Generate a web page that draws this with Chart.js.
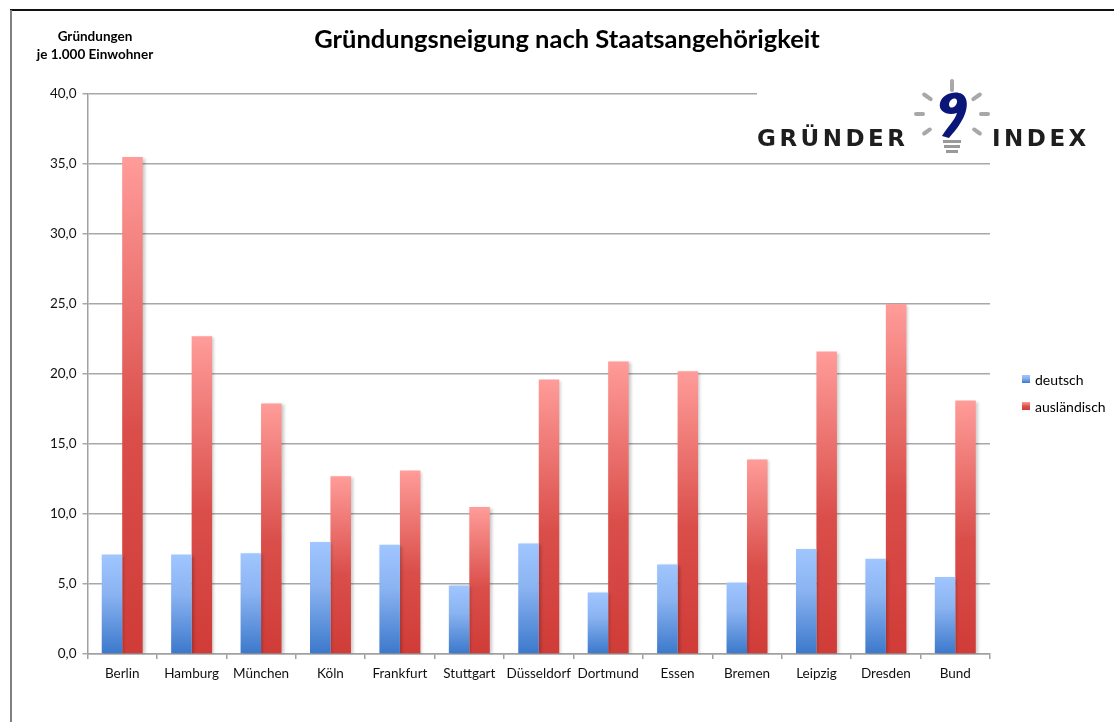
<!DOCTYPE html>
<html>
	<head>
		<title>Gründungsneigung</title>
		<meta charset="UTF-8">
		<script src="https://cdn.jsdelivr.net/npm/chart.js@4/dist/chart.umd.min.js"></script>
		<style>
			body { margin: 0; background: #fff; }
			#wrap { width: 1114px; height: 722px; position: relative; }
		</style>
	</head>
	<body>
		<div id="wrap"><canvas id="chart"></canvas></div>

		<script>
			const cities = ["Berlin", "Hamburg", "München", "Köln", "Frankfurt", "Stuttgart", "Düsseldorf", "Dortmund", "Essen", "Bremen", "Leipzig", "Dresden", "Bund"]
			const deutsch = [7.1, 7.1, 7.2, 8.0, 7.8, 4.9, 7.9, 4.4, 6.4, 5.1, 7.5, 6.8, 5.5]
			const auslaendisch = [35.5, 22.7, 17.9, 12.7, 13.1, 10.5, 19.6, 20.9, 20.2, 13.9, 21.6, 25.0, 18.1]
			const seriesNames = ["deutsch", "ausländisch"]
			const yTicks = [0, 5, 10, 15, 20, 25, 30, 35, 40]

			const FONT = "Lato, 'Open Sans', sans-serif"
			const blueStops = [[0, "#a0c6ff"], [0.4, "#8ab3f1"], [1, "#3b78cb"]]
			const redStops = [[0, "#ff9c99"], [0.55, "#da4e4a"], [1, "#d03c38"]]

			function barGradient(stops){
				return function(c){
					let chart = c.chart
					if(!chart.chartArea || c.raw === undefined) return stops[0][1]
					let y = chart.scales.y
					let top = y.getPixelForValue(c.raw)
					let bottom = y.getPixelForValue(0)
					let g = chart.ctx.createLinearGradient(0, top, 0, bottom)
					stops.forEach(s => g.addColorStop(s[0], s[1]))
					return g
				}
			}

			// frame, titles, legend and logo
			const decor = {
				id: "decor",
				beforeDraw(chart){
					let ctx = chart.ctx
					ctx.save()
					ctx.fillStyle = "#fff"
					ctx.fillRect(0, 0, chart.width, chart.height)
					ctx.fillStyle = "#111"
					ctx.fillRect(10, 9, chart.width - 10, 2)
					ctx.fillStyle = "#808080"
					ctx.fillRect(10, 10, 2, chart.height - 10)
					ctx.restore()
				},
				beforeDatasetsDraw(chart){
					let ctx = chart.ctx
					ctx.save()
					ctx.shadowColor = "rgba(0,0,0,0.22)"
					ctx.shadowOffsetX = 2
					ctx.shadowOffsetY = 1
					ctx.shadowBlur = 3
				},
				afterDatasetsDraw(chart){
					chart.ctx.restore()
				},
				afterDraw(chart){
					let ctx = chart.ctx
					let area = chart.chartArea
					ctx.save()
					ctx.fillStyle = "#000"
					ctx.textAlign = "center"
					ctx.textBaseline = "middle"
					ctx.font = "bold 25.5px " + FONT
					ctx.fillText("Gründungsneigung nach Staatsangehörigkeit", 567, 40)
					ctx.font = "bold 13.5px " + FONT
					ctx.fillText("Gründungen", 95, 37)
					ctx.fillText("je 1.000 Einwohner", 95, 55)

					// legend
					ctx.textAlign = "left"
					ctx.font = "14px " + FONT
					let stopsList = [blueStops, redStops]
					seriesNames.forEach((name, i) => {
						let y = 379 + i * 27
						let g = ctx.createLinearGradient(0, y - 4, 0, y + 4)
						stopsList[i].forEach(s => g.addColorStop(s[0], s[1]))
						ctx.fillStyle = g
						ctx.fillRect(1022, y - 4, 8, 8)
						ctx.fillStyle = "#000"
						ctx.fillText(name, 1035, y + 1)
					})

					// Gründer Index logo
					ctx.fillStyle = "#fff"
					ctx.fillRect(757, 74, 340, area.top + 60 - 74)
					ctx.fillStyle = "#1e1e1e"
					ctx.font = "bold 23px 'DejaVu Sans', sans-serif"
					ctx.letterSpacing = "3.5px"
					ctx.textBaseline = "alphabetic"
					ctx.fillText("GRÜNDER", 757, 146)
					ctx.fillText("INDEX", 992, 146)
					ctx.letterSpacing = "0px"

					let cx = 952, cy = 114
					ctx.strokeStyle = "#a8a8a8"
					ctx.lineCap = "round"
					ctx.lineWidth = 4
					let rays = [[-90, 24, 33], [-145, 26, 34], [-35, 26, 34], [180, 29, 36], [0, 29, 36], [145, 27, 34], [35, 27, 34]]
					rays.forEach(r => {
						let a = r[0] * Math.PI / 180
						ctx.beginPath()
						ctx.moveTo(cx + Math.cos(a) * r[1], cy + Math.sin(a) * r[1])
						ctx.lineTo(cx + Math.cos(a) * r[2], cy + Math.sin(a) * r[2])
						ctx.stroke()
					})
					// bulb base
					ctx.fillStyle = "#9a9a9a"
					ctx.fillRect(943, 140, 18, 3)
					ctx.fillRect(944, 145, 16, 3)
					ctx.fillRect(946, 150, 12, 3)
					// blue glyph
					ctx.fillStyle = "#0b1778"
					ctx.beginPath()
					ctx.moveTo(942, 136)
					ctx.bezierCurveTo(948, 126, 955, 120, 957, 113)
					ctx.bezierCurveTo(948, 116, 938, 112, 940, 103)
					ctx.bezierCurveTo(942, 94, 955, 90, 962, 94)
					ctx.bezierCurveTo(970, 99, 967, 113, 961, 122)
					ctx.bezierCurveTo(957, 129, 952, 134, 949, 138)
					ctx.closePath()
					ctx.fill()
					ctx.fillStyle = "#fff"
					ctx.beginPath()
					ctx.ellipse(953, 103, 3.5, 5, 0.6, 0, Math.PI * 2)
					ctx.fill()
					ctx.restore()
				}
			}

			let myChart = document.getElementById("chart").getContext("2d")
			let gruenderChart = new Chart(myChart, {
				type: "bar",
				data: {
					labels: cities,
					datasets: [{
						label: seriesNames[0],
						data: deutsch,
						backgroundColor: barGradient(blueStops),
						borderWidth: 0
					}, {
						label: seriesNames[1],
						data: auslaendisch,
						backgroundColor: barGradient(redStops),
						borderWidth: 0
					}]
				},
				options: {
					responsive: true,
					maintainAspectRatio: false,
					animation: false,
					categoryPercentage: 0.59,
					barPercentage: 1,
					layout: { padding: { top: 94, left: 0, right: 124, bottom: 0 } },
					plugins: {
						legend: { display: false },
						tooltip: { enabled: false }
					},
					scales: {
						x: {
							afterFit(s){ s.height = 68 },
							border: { color: "#a0a0a0", width: 1.5 },
							grid: { drawOnChartArea: false, drawTicks: true, tickLength: 5, color: "#a0a0a0", lineWidth: 1.5, offset: true },
							ticks: { color: "#111", font: { family: FONT, size: 13.5 }, padding: 7, maxRotation: 0, autoSkip: false }
						},
						y: {
							min: 0,
							max: 40,
							afterFit(s){ s.width = 87.5 },
							afterBuildTicks(s){ s.ticks = yTicks.map(v => ({ value: v })) },
							border: { color: "#a0a0a0", width: 1.5 },
							grid: { color: "#a8a8a8", lineWidth: 1.5, tickLength: 5 },
							ticks: {
								color: "#111",
								font: { family: FONT, size: 13.5 },
								padding: 6,
								callback: v => v.toFixed(1).replace(".", ",")
							}
						}
					}
				},
				plugins: [decor]
			})
		</script>
	</body>
</html>
